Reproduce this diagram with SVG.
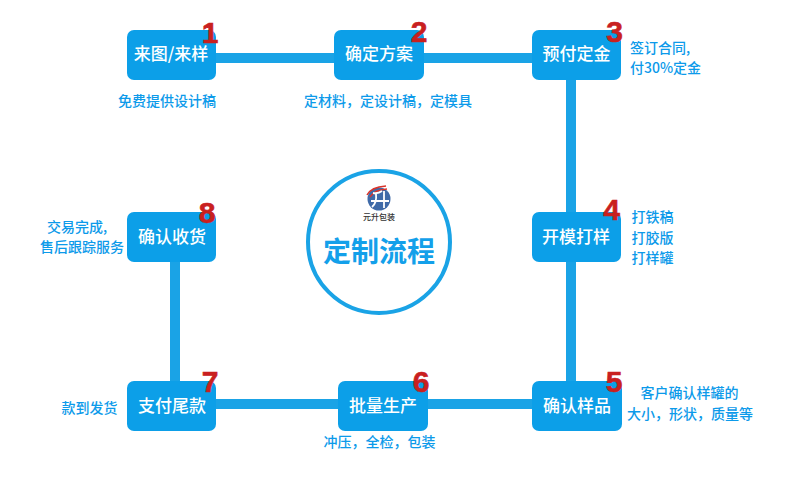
<svg xmlns="http://www.w3.org/2000/svg" width="790" height="496" viewBox="0 0 790 496">
<style>
text{font-family:"Noto Sans CJK SC","Liberation Sans",sans-serif}
.box{fill:#0c9fe8}
.t{fill:#fff;font-size:17px;font-weight:500;text-anchor:middle}
.s{fill:#0c9aea;font-size:14px;font-weight:500;text-anchor:middle}
.l{text-anchor:start}
.n{fill:#c9201f;stroke:#c9201f;stroke-width:.6;font-size:30px;font-weight:700;text-anchor:middle;font-family:"Liberation Sans",sans-serif}
.c{fill:none;stroke:#1aa3e6;stroke-width:10}
</style>
<rect width="790" height="496" fill="#fff"/>
<g id="connectors">
<path class="c" d="M216 58H334M424 58H532M571 80V212M571 262V381M532 404H428M338 404H216M175 381V262"/>
</g>
<g id="node1"><rect class="box" x="127" y="30" width="89" height="50" rx="7"/><text class="t" x="171" y="60">来图/来样</text><text class="n" x="210" y="43">1</text><text class="s" x="167" y="106">免费提供设计稿</text></g>
<g id="node2"><rect class="box" x="334" y="30" width="90" height="50" rx="7"/><text class="t" x="379" y="60">确定方案</text><text class="n" x="419" y="42">2</text><text class="s" x="388" y="106">定材料，定设计稿，定模具</text></g>
<g id="node3"><rect class="box" x="532" y="30" width="89" height="50" rx="7"/><text class="t" x="576.500" y="60">预付定金</text><text class="n" x="614.500" y="42">3</text><text class="s l" x="630" y="53">签订合同,</text><text class="s l" x="630" y="73">付30%定金</text></g>
<g id="node4"><rect class="box" x="532" y="212" width="89" height="50" rx="7"/><text class="t" x="576" y="243">开模打样</text><text class="n" x="611.500" y="220">4</text><text class="s" x="652.500" y="222">打铁稿</text><text class="s" x="652.500" y="243">打胶版</text><text class="s" x="652.500" y="263">打样罐</text></g>
<g id="node5"><rect class="box" x="532" y="381" width="90" height="50" rx="7"/><text class="t" x="577" y="412">确认样品</text><text class="n" x="614" y="392">5</text><text class="s" x="689.500" y="398">客户确认样罐的</text><text class="s" x="690" y="419">大小，形状，质量等</text></g>
<g id="node6"><rect class="box" x="338" y="381" width="90" height="50" rx="7"/><text class="t" x="383" y="412">批量生产</text><text class="n" x="421" y="392">6</text><text class="s" x="379.500" y="447">冲压，全检，包装</text></g>
<g id="node7"><rect class="box" x="127" y="381" width="89" height="50" rx="7"/><text class="t" x="172" y="412">支付尾款</text><text class="n" x="210" y="392">7</text><text class="s" x="89.500" y="413">款到发货</text></g>
<g id="node8"><rect class="box" x="127" y="212" width="89" height="50" rx="7"/><text class="t" x="172" y="243">确认收货</text><text class="n" x="207" y="223">8</text><text class="s" x="77" y="232">交易完成,</text><text class="s" x="82" y="252">售后跟踪服务</text></g>
<g id="center">
<circle cx="379" cy="242" r="71" fill="#fff" stroke="#1aa3e6" stroke-width="4"/>
<circle cx="379" cy="199" r="11.500" fill="#3f6aa8"/>
<path d="M367 195Q371 187 386 186M370 197Q374 190 387 189" fill="none" stroke="#d9342b" stroke-width="1.500"/>
<path d="M373 193Q378 194 382 191M371 201H389M376 194Q377 203 372 207M384 191V208" fill="none" stroke="#fff" stroke-width="1.800"/>
<text x="379" y="220" text-anchor="middle" font-size="8" font-weight="500" fill="#333">元升包装</text>
<text x="379" y="262" text-anchor="middle" font-size="28" font-weight="700" fill="#13a0ea">定制流程</text>
</g>
</svg>
